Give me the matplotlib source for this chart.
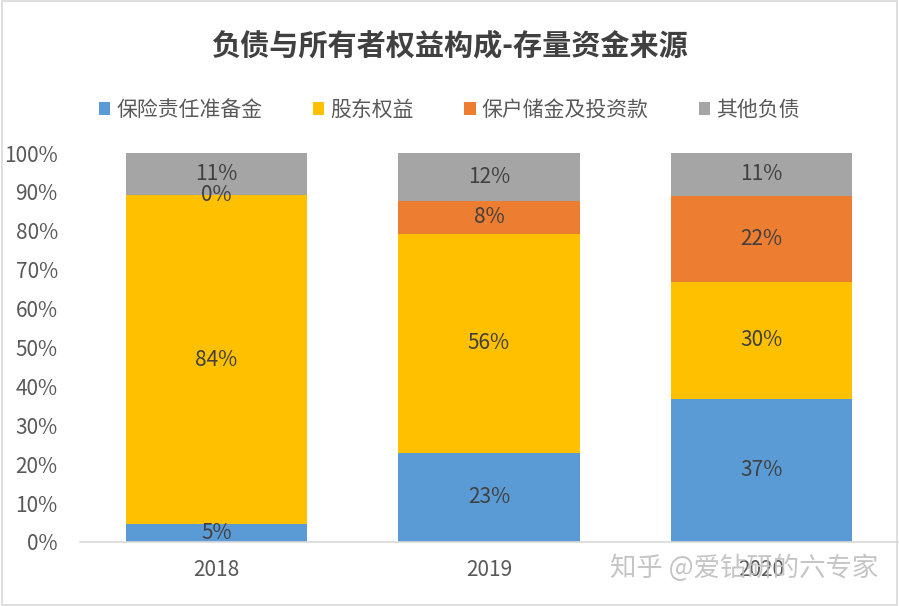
import numpy as np
import matplotlib.pyplot as plt
from matplotlib.patches import Rectangle

plt.rcParams['font.family'] = ['Noto Sans CJK SC', 'DejaVu Sans']

# data (shares in %, label values are rounded)
years = ['2018', '2019', '2020']
series = ['保险责任准备金', '股东权益', '保户储金及投资款', '其他负债']
reserve = [4.7, 22.9, 36.8]
equity = [84.4, 56.4, 30.0]
deposits = [0.1, 8.3, 22.2]
other = [10.8, 12.4, 11.0]
labels = [
    ['5%', '23%', '37%'],
    ['84%', '56%', '30%'],
    ['0%', '8%', '22%'],
    ['11%', '12%', '11%'],
]
colors = ['#5B9BD5', '#FFC000', '#ED7D31', '#A5A5A5']

fig = plt.figure(figsize=(8.99, 6.06), dpi=100)
ax = fig.add_axes([80 / 899, 64 / 606, 818 / 899, 389 / 606])

x = np.arange(len(years))
bottom = np.zeros(len(years))
for vals, name, col, labs in zip([reserve, equity, deposits, other], series, colors, labels):
    vals = np.array(vals) / 100
    ax.bar(x, vals, 0.664, bottom=bottom, color=col, label=name)
    for i in range(len(years)):
        ax.text(x[i], bottom[i] + vals[i] / 2, labs[i], ha='center', va='center',
                fontsize=15, color='#404040')
    bottom += vals

ax.set_xlim(-0.5, 2.5)
ax.set_ylim(0, 1)
ax.set_yticks(np.arange(0, 1.01, 0.1))
ax.set_yticklabels([f'{int(round(t * 100))}%' for t in np.arange(0, 1.01, 0.1)])
ax.set_xticks(x)
ax.set_xticklabels(years)
ax.tick_params(axis='y', length=0, pad=16, labelsize=15, labelcolor='#595959')
ax.tick_params(axis='x', length=0, pad=12, labelsize=15, labelcolor='#595959')
for s in ['top', 'right', 'left']:
    ax.spines[s].set_visible(False)
ax.spines['bottom'].set_color('#D9D9D9')
ax.spines['bottom'].set_linewidth(1.2)

fig.text(0.5, 1 - 45 / 606, '负债与所有者权益构成-存量资金来源', ha='center', va='center',
         fontsize=21, fontweight='bold', color='#404040')

fig.legend(loc='center', bbox_to_anchor=(0.5, 1 - 110 / 606), ncol=4, frameon=False,
           fontsize=15, handlelength=0.55, handleheight=0.55, handletextpad=0.3,
           columnspacing=2.4, labelcolor='#595959')

# watermark
fig.text(878 / 899, 1 - 568 / 606, '知乎 @爱钻研的六专家', ha='right', va='center',
         fontsize=19, color='#BFBFBF', alpha=0.9)

# chart border
fig.add_artist(Rectangle((0.002, 0.002), 0.996, 0.996, transform=fig.transFigure,
                         fill=False, edgecolor='#D9D9D9', linewidth=1.2))

fig.savefig('out.png', dpi=100)
